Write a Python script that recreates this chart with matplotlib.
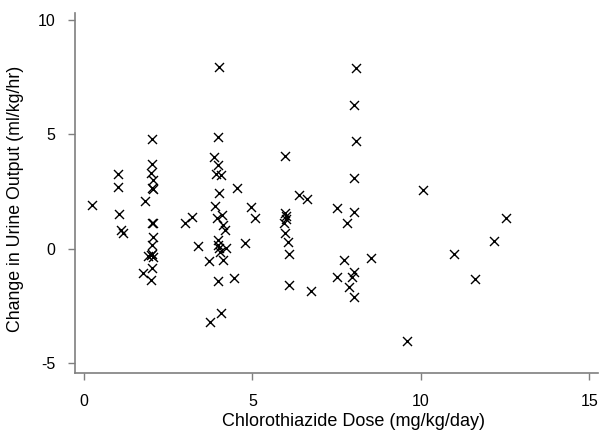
import matplotlib
matplotlib.use("Agg")
import matplotlib.pyplot as plt

# dose (mg/kg/day) and change in urine output (ml/kg/hr)
dose = [
    0.25,
    1.0, 1.02, 1.04, 1.09, 1.17,
    2.03, 2.02, 2.0, 2.05, 2.02, 2.04, 1.8, 2.02, 2.05, 2.05, 2.03, 2.02,
    2.0, 1.9, 2.04, 2.02, 1.76, 2.0,
    3.0, 3.2, 3.39, 3.72, 3.74,
    4.0, 3.87, 3.97, 3.93, 4.08, 3.99, 4.02, 3.89, 4.11, 3.94, 4.13, 4.18,
    3.99, 3.99, 4.01, 4.04, 4.21, 4.13, 3.99, 4.06, 4.53, 4.46, 4.78,
    4.97, 5.07,
    5.96, 5.97, 6.0, 6.01, 5.95, 5.96, 6.06, 6.08, 6.08,
    6.39, 6.61, 6.73,
    7.52, 7.52, 7.72, 7.81, 7.86, 7.94,
    8.06, 8.02, 8.06, 8.02, 8.01, 8.02, 8.02, 8.52,
    9.6, 10.07, 10.98, 11.62, 12.17, 12.52,
]
change = [
    1.9,
    3.26, 2.72, 1.54, 0.83, 0.71,
    4.79, 3.71, 3.3, 3.0, 2.65, 2.6, 2.1, 1.15, 1.12, 0.54, 0.17, -0.22,
    -0.26, -0.3, -0.34, -0.84, -1.06, -1.35,
    1.15, 1.41, 0.14, -0.55, -3.17,
    7.93, 3.99, 3.67, 3.26, 3.23, 4.9, 2.43, 1.88, 1.48, 1.34, 1.05, 0.83,
    0.39, 0.17, 0.03, -0.12, 0.03, -0.48, -1.38, -2.81, 2.65, -1.26, 0.26,
    1.84, 1.33,
    4.06, 1.56, 1.44, 1.3, 1.15, 0.69, 0.32, -0.24, -1.57,
    2.34, 2.16, -1.83,
    1.78, -1.24, -0.48, 1.12, -1.65, -1.21,
    7.89, 6.29, 4.69, 3.09, 1.63, -0.99, -2.11, -0.41,
    -4.02, 2.58, -0.23, -1.32, 0.35, 1.37,
]

plt.rcParams["font.family"] = ["Liberation Sans", "DejaVu Sans"]
plt.rcParams["axes.unicode_minus"] = False

fig = plt.figure(figsize=(5.99, 4.32), dpi=100)
ax = fig.add_axes([0.125, 0.137, 0.873, 0.833])

ax.scatter(dose, change, marker="x", s=42, c="black", linewidths=1.0)

ax.set_xlim(-0.27, 15.25)
ax.set_ylim(-5.41, 10.3)
ax.set_xticks([0, 5, 10, 15])
ax.set_yticks([-5, 0, 5, 10])

ax.set_xlabel("Chlorothiazide Dose (mg/kg/day)", fontsize=13)
ax.set_ylabel("Change in Urine Output (ml/kg/hr)", fontsize=12.8)
# label centres as in the original (measured in axes fractions)
ax.xaxis.set_label_coords(0.533, -0.113)
ax.yaxis.set_label_coords(-0.098, 0.483)

for side in ["top", "right"]:
    ax.spines[side].set_visible(False)
for side in ["left", "bottom"]:
    ax.spines[side].set_color("#7f7f7f")
    ax.spines[side].set_linewidth(1.2)
ax.tick_params(colors="#7f7f7f", labelcolor="black", length=5, width=1,
               labelsize=11.5)
ax.tick_params(axis="x", pad=10)
ax.tick_params(axis="y", pad=9)

fig.savefig("out.png", dpi=100)
